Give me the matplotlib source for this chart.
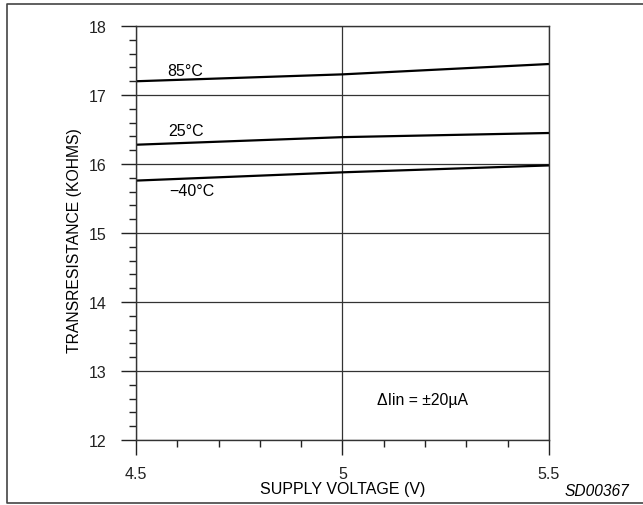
import numpy as np
import matplotlib.pyplot as plt
from matplotlib.ticker import MultipleLocator

plt.rcParams['font.family'] = ['Liberation Sans', 'DejaVu Sans']

# Data
voltage = [4.5, 5.0, 5.5]
r_85 = [17.20, 17.30, 17.45]
r_25 = [16.28, 16.39, 16.45]
r_m40 = [15.76, 15.88, 15.98]
series_labels = ['85°C', '25°C', '\u221240°C']
label_pos = [(4.575, 17.36), (4.578, 16.48), (4.58, 15.61)]

fig = plt.figure(figsize=(6.43, 5.06), dpi=100)
ax = fig.add_axes([0.2115, 0.1285, 0.6423, 0.818])

for r in (r_85, r_25, r_m40):
    ax.plot(voltage, r, color='black', lw=1.6, solid_capstyle='butt')

for lab, (x, y) in zip(series_labels, label_pos):
    ax.text(x, y, lab, fontsize=11.5, va='center', ha='left')

ax.text(5.083, 12.59, '\u0394Iin = \u00b120\u00b5A', fontsize=11.3, va='center', ha='left')

ax.set_xlim(4.5, 5.5)
ax.set_ylim(12, 18)
ax.set_xticks([4.5, 5, 5.5])
ax.set_xticklabels(['4.5', '5', '5.5'])
ax.set_yticks(range(12, 19))
ax.xaxis.set_minor_locator(MultipleLocator(0.1))
ax.yaxis.set_minor_locator(MultipleLocator(0.2))
ax.tick_params(axis='both', which='major', direction='out', length=11, width=1, labelsize=11.5, colors='#222222')
ax.tick_params(axis='both', which='minor', direction='out', length=5, width=1, colors='#222222')
ax.tick_params(axis='x', which='major', pad=8)
ax.tick_params(axis='y', which='major', pad=10)
ax.grid(True, which='major', color='#333333', lw=0.9)
for s in ax.spines.values():
    s.set_color('#333333')
    s.set_linewidth(1.0)

ax.set_xlabel('SUPPLY VOLTAGE (V)', fontsize=11.5, labelpad=0)
ax.set_ylabel('TRANSRESISTANCE (KOHMS)', fontsize=11.3, labelpad=5, y=0.484)

fig.text(629 / 643, 1 - 492 / 506, 'SD00367', fontsize=11.2, style='italic', ha='right', va='center')

# figure frame (left, top, bottom edges)
frame_x = [1.2, 7 / 643, 7 / 643, 1.2]
frame_y = [1 - 5 / 506, 1 - 5 / 506, 1 - 504 / 506, 1 - 504 / 506]
fig.add_artist(plt.Line2D(frame_x, frame_y, color='#444444', lw=1.2, transform=fig.transFigure))

fig.savefig('out.png', dpi=100)
